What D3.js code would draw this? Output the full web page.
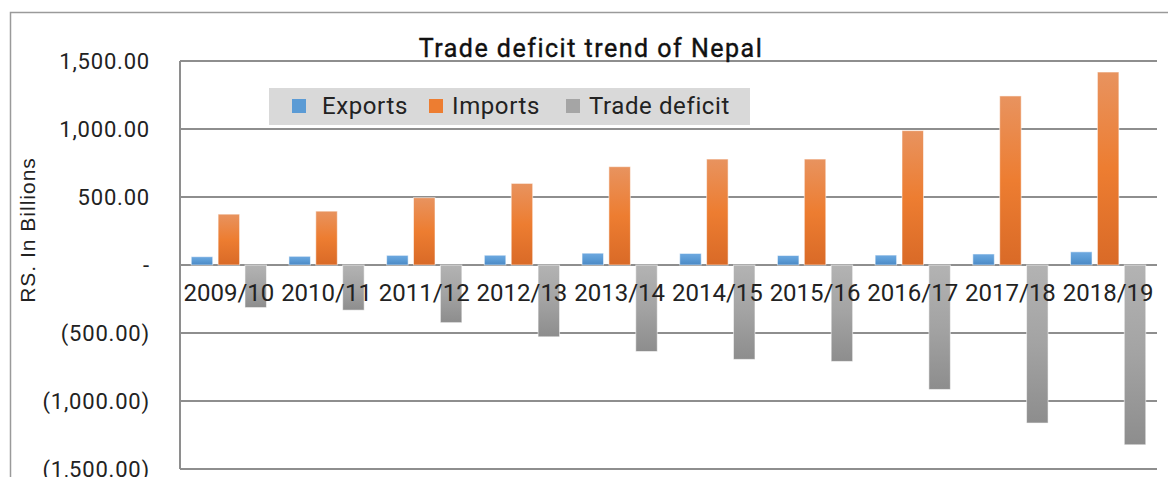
<!DOCTYPE html>
<html>
<head>
<meta charset="utf-8">
<script src="https://cdn.jsdelivr.net/npm/d3@7"></script>
<style>
  body { margin: 0; background: #fff; }
  svg { display: block; font-family: Roboto, "Noto Sans", sans-serif; }
</style>
</head>
<body>
<svg id="chart" width="1168" height="477"></svg>
<script>
// values in Rs. billions
var years = ["2009/10", "2010/11", "2011/12", "2012/13", "2013/14",
             "2014/15", "2015/16", "2016/17", "2017/18", "2018/19"];
var exportsVals = [61, 64, 71, 72, 87, 85, 70, 73, 81, 97];
var importsVals = [374, 396, 495, 600, 723, 779, 779, 988, 1243, 1419];
var deficitVals = [-313, -332, -424, -528, -636, -694, -709, -915, -1162, -1322];
var yTicks = [-1500, -1000, -500, 0, 500, 1000, 1500];

var seriesNames = ["Exports", "Imports", "Trade deficit"];
var seriesVals = [exportsVals, importsVals, deficitVals];
var grads = [
	["#6ea9e0", "#5b9bd5", "#4a88c4"],
	["#e8935f", "#ed7d31", "#d96a27"],
	["#b3b3b3", "#a3a3a3", "#8d8d8d"]
];
var legendColors = ["#5b9bd5", "#ed7d31", "#a5a5a5"];

var svg = d3.select("#chart");
var plot = {left: 180, right: 1157, top: 61, bottom: 469};

// outer frame
svg.append("rect")
	.attr("x", 10.5).attr("y", 12.5)
	.attr("width", 1170).attr("height", 480)
	.attr("fill", "none").attr("stroke", "#9a9a9a").attr("stroke-width", 1.5);

var defs = svg.append("defs");
grads.forEach(function(g, i) {
	let lg = defs.append("linearGradient").attr("id", "g" + i)
		.attr("x1", 0).attr("y1", 0).attr("x2", 0).attr("y2", 1);
	lg.append("stop").attr("offset", "0%").attr("stop-color", g[0]);
	lg.append("stop").attr("offset", "50%").attr("stop-color", g[1]);
	lg.append("stop").attr("offset", "100%").attr("stop-color", g[2]);
});

var y = d3.scaleLinear().domain([-1500, 1500]).range([plot.bottom, plot.top]);
var x0 = d3.scaleBand().domain(years).range([plot.left, plot.right])
	.paddingInner(0.23).paddingOuter(0.115);
var x1 = d3.scaleBand().domain(d3.range(3)).range([0, x0.bandwidth()]).paddingInner(0.2);

// gridlines
svg.append("g").selectAll("line").data(yTicks).enter().append("line")
	.attr("x1", plot.left).attr("x2", plot.right)
	.attr("y1", d => y(d)).attr("y2", d => y(d))
	.attr("stroke", "#8e8e8e").attr("stroke-width", 2);

svg.append("line")
	.attr("x1", plot.left).attr("x2", plot.left)
	.attr("y1", plot.top).attr("y2", plot.bottom)
	.attr("stroke", "#8e8e8e").attr("stroke-width", 2);

// bars
var groups = svg.append("g").selectAll("g").data(years).enter().append("g")
	.attr("transform", d => "translate(" + x0(d) + ",0)");

groups.selectAll("rect")
	.data((d, i) => seriesVals.map((s, k) => ({k: k, v: s[i]})))
	.enter().append("rect")
	.attr("x", d => x1(d.k))
	.attr("width", x1.bandwidth())
	.attr("y", d => y(Math.max(0, d.v)))
	.attr("height", d => Math.abs(y(d.v) - y(0)))
	.attr("fill", d => "url(#g" + d.k + ")")
	.attr("stroke", "rgba(255,255,255,0.55)").attr("stroke-width", 1);

// y axis labels
var fmt = d3.format(",.2f");
var yAxis = d3.axisLeft(y).tickValues(yTicks).tickSize(0).tickPadding(30)
	.tickFormat(d => d === 0 ? "-" : d < 0 ? "(" + fmt(-d) + ")" : fmt(d));
svg.append("g").attr("transform", "translate(" + plot.left + ",0)").call(yAxis)
	.call(g => g.select(".domain").remove())
	.selectAll("text")
	.attr("font-family", "Roboto, sans-serif")
	.attr("font-size", 22).attr("letter-spacing", "0.8px")
	.attr("fill", "#222");

// x axis labels sit on the zero line, drawn over the bars
var xAxis = d3.axisBottom(x0).tickSize(0).tickPadding(19);
svg.append("g").attr("transform", "translate(0," + y(0) + ")").call(xAxis)
	.call(g => g.select(".domain").remove())
	.selectAll("text")
	.attr("font-family", "Roboto, sans-serif")
	.attr("font-size", 24).attr("fill", "#222");

// axis title
svg.append("text")
	.attr("transform", "translate(35,230) rotate(-90)")
	.attr("text-anchor", "middle")
	.attr("font-family", "'Liberation Sans', Arial, sans-serif")
	.attr("font-size", 21).attr("letter-spacing", "1px")
	.attr("fill", "#222")
	.text("RS.  In Billions");

// chart title
svg.append("text")
	.attr("x", 591).attr("y", 57)
	.attr("text-anchor", "middle")
	.attr("font-size", 25).attr("letter-spacing", "1.5px")
	.attr("fill", "#111").attr("stroke", "#111").attr("stroke-width", 0.4)
	.text("Trade deficit trend of Nepal");

// legend
var legend = svg.append("g");
legend.append("rect")
	.attr("x", 269).attr("y", 88).attr("width", 481).attr("height", 37)
	.attr("fill", "#d9d9d9");
var legendX = [292, 429, 566];
seriesNames.forEach(function(n, i) {
	legend.append("rect")
		.attr("x", legendX[i]).attr("y", 99).attr("width", 14).attr("height", 14)
		.attr("fill", legendColors[i]);
	legend.append("text")
		.attr("x", legendX[i] + (i === 0 ? 30 : 23)).attr("y", 114)
		.attr("font-size", 24).attr("letter-spacing", "0.6px").attr("fill", "#222")
		.text(n);
});
</script>
</body>
</html>
